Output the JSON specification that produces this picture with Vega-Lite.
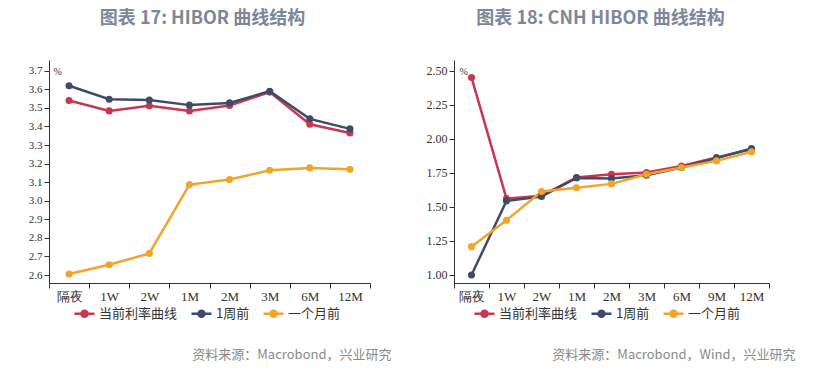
{
  "$schema": "https://vega.github.io/schema/vega-lite/v6.json",
  "background": "white",
  "padding": {"left": 28, "top": 10, "right": 5, "bottom": 5},
  "spacing": 34,
  "datasets": {
    "hibor": [
      {"tenor": "隔夜", "series": "当前利率曲线", "value": 3.54},
      {"tenor": "1W", "series": "当前利率曲线", "value": 3.484},
      {"tenor": "2W", "series": "当前利率曲线", "value": 3.511},
      {"tenor": "1M", "series": "当前利率曲线", "value": 3.483},
      {"tenor": "2M", "series": "当前利率曲线", "value": 3.513},
      {"tenor": "3M", "series": "当前利率曲线", "value": 3.585},
      {"tenor": "6M", "series": "当前利率曲线", "value": 3.412},
      {"tenor": "12M", "series": "当前利率曲线", "value": 3.365},
      {"tenor": "隔夜", "series": "1周前", "value": 3.619},
      {"tenor": "1W", "series": "1周前", "value": 3.547},
      {"tenor": "2W", "series": "1周前", "value": 3.542},
      {"tenor": "1M", "series": "1周前", "value": 3.515},
      {"tenor": "2M", "series": "1周前", "value": 3.527},
      {"tenor": "3M", "series": "1周前", "value": 3.59},
      {"tenor": "6M", "series": "1周前", "value": 3.441},
      {"tenor": "12M", "series": "1周前", "value": 3.387},
      {"tenor": "隔夜", "series": "一个月前", "value": 2.605},
      {"tenor": "1W", "series": "一个月前", "value": 2.655},
      {"tenor": "2W", "series": "一个月前", "value": 2.716},
      {"tenor": "1M", "series": "一个月前", "value": 3.087},
      {"tenor": "2M", "series": "一个月前", "value": 3.114},
      {"tenor": "3M", "series": "一个月前", "value": 3.164},
      {"tenor": "6M", "series": "一个月前", "value": 3.177},
      {"tenor": "12M", "series": "一个月前", "value": 3.169}
    ],
    "cnh": [
      {"tenor": "隔夜", "series": "当前利率曲线", "value": 2.451},
      {"tenor": "1W", "series": "当前利率曲线", "value": 1.561},
      {"tenor": "2W", "series": "当前利率曲线", "value": 1.582},
      {"tenor": "1M", "series": "当前利率曲线", "value": 1.716},
      {"tenor": "2M", "series": "当前利率曲线", "value": 1.74},
      {"tenor": "3M", "series": "当前利率曲线", "value": 1.752},
      {"tenor": "6M", "series": "当前利率曲线", "value": 1.801},
      {"tenor": "9M", "series": "当前利率曲线", "value": 1.863},
      {"tenor": "12M", "series": "当前利率曲线", "value": 1.924},
      {"tenor": "隔夜", "series": "1周前", "value": 1.0},
      {"tenor": "1W", "series": "1周前", "value": 1.544},
      {"tenor": "2W", "series": "1周前", "value": 1.576},
      {"tenor": "1M", "series": "1周前", "value": 1.713},
      {"tenor": "2M", "series": "1周前", "value": 1.708},
      {"tenor": "3M", "series": "1周前", "value": 1.733},
      {"tenor": "6M", "series": "1周前", "value": 1.789},
      {"tenor": "9M", "series": "1周前", "value": 1.858},
      {"tenor": "12M", "series": "1周前", "value": 1.929},
      {"tenor": "隔夜", "series": "一个月前", "value": 1.208},
      {"tenor": "1W", "series": "一个月前", "value": 1.402},
      {"tenor": "2W", "series": "一个月前", "value": 1.613},
      {"tenor": "1M", "series": "一个月前", "value": 1.64},
      {"tenor": "2M", "series": "一个月前", "value": 1.669},
      {"tenor": "3M", "series": "一个月前", "value": 1.74},
      {"tenor": "6M", "series": "一个月前", "value": 1.789},
      {"tenor": "9M", "series": "一个月前", "value": 1.838},
      {"tenor": "12M", "series": "一个月前", "value": 1.904}
    ]
  },
  "config": {
    "view": {"stroke": null},
    "axis": {
      "domainColor": "#333333",
      "tickColor": "#333333",
      "labelColor": "#333333",
      "grid": false,
      "labelFont": "Liberation Serif",
      "titleFont": "Liberation Serif",
      "tickSize": 5
    },
    "title": {
      "font": "Noto Sans CJK SC",
      "fontSize": 18,
      "fontWeight": "bold",
      "color": "#7b879b"
    },
    "legend": {
      "labelFont": "Noto Sans CJK SC",
      "labelFontSize": 13,
      "labelColor": "#333333"
    }
  },
  "resolve": {
    "scale": {"color": "independent", "x": "independent", "y": "independent"},
    "legend": {"color": "independent"}
  },
  "hconcat": [
    {
      "title": {"text": "资料来源：Macrobond，兴业研究", "orient": "bottom", "anchor": "end", "fontSize": 13, "fontWeight": "normal", "color": "#8a8a8a", "offset": 27, "dx": 21},
      "vconcat": [
        {
          "width": 321,
          "height": 223,
          "title": {"text": "图表 17: HIBOR 曲线结构", "dx": -7, "offset": 32},
          "data": {"name": "hibor"},
          "encoding": {
            "x": {
              "field": "tenor", "type": "nominal",
              "sort": ["隔夜", "1W", "2W", "1M", "2M", "3M", "6M", "12M"],
              "scale": {"type": "band", "paddingInner": 0, "paddingOuter": 0},
              "bandPosition": 0.5,
              "axis": {"title": null, "labelAngle": 0, "tickBand": "extent", "labelFontSize": 13, "labelPadding": 2}
            },
            "y": {
              "field": "value", "type": "quantitative",
              "scale": {"domain": [2.557, 3.758], "nice": false, "zero": false},
              "axis": {
                "values": [2.6, 2.7, 2.8, 2.9, 3.0, 3.1, 3.2, 3.3, 3.4, 3.5, 3.6, 3.7],
                "format": ".1f", "labelFontSize": 11,
                "title": "%", "titleAngle": 0, "titleX": 4, "titleY": 11, "titleAlign": "left", "titleBaseline": "middle", "titleFontSize": 10, "titleFontWeight": "normal", "titleColor": "#333333"
              }
            },
            "color": {
              "field": "series", "type": "nominal",
              "scale": {"domain": ["当前利率曲线", "1周前", "一个月前"], "range": ["#c9374f", "#3e4c6a", "#f0a42a"]},
              "legend": {
                "orient": "none", "legendX": 24, "legendY": 242, "direction": "horizontal", "title": null,
                "symbolType": "M-1,0H1M-0.3,0A0.3,0.3,0,1,0,0.3,0A0.3,0.3,0,1,0,-0.3,0Z",
                "symbolSize": 400, "symbolStrokeWidth": 2.5, "labelOffset": 3, "columnPadding": 8
              }
            }
          },
          "layer": [
            {"mark": {"type": "line", "strokeWidth": 2.5}},
            {"mark": {"type": "point", "filled": true, "size": 50, "opacity": 1}}
          ]
        }
      ]
    },
    {
      "title": {"text": "资料来源：Macrobond，Wind，兴业研究", "orient": "bottom", "anchor": "end", "fontSize": 13, "fontWeight": "normal", "color": "#8a8a8a", "offset": 27, "dx": 26},
      "vconcat": [
        {
          "width": 315,
          "height": 223,
          "title": {"text": "图表 18: CNH HIBOR 曲线结构", "dx": -11, "offset": 32},
          "data": {"name": "cnh"},
          "encoding": {
            "x": {
              "field": "tenor", "type": "nominal",
              "sort": ["隔夜", "1W", "2W", "1M", "2M", "3M", "6M", "9M", "12M"],
              "scale": {"type": "band", "paddingInner": 0, "paddingOuter": 0},
              "bandPosition": 0.5,
              "axis": {"title": null, "labelAngle": 0, "tickBand": "extent", "labelFontSize": 13, "labelPadding": 2}
            },
            "y": {
              "field": "value", "type": "quantitative",
              "scale": {"domain": [0.941, 2.579], "nice": false, "zero": false},
              "axis": {
                "values": [1.0, 1.25, 1.5, 1.75, 2.0, 2.25, 2.5],
                "format": ".2f", "labelFontSize": 12,
                "title": "%", "titleAngle": 0, "titleX": 5, "titleY": 11, "titleAlign": "left", "titleBaseline": "middle", "titleFontSize": 10, "titleFontWeight": "normal", "titleColor": "#333333"
              }
            },
            "color": {
              "field": "series", "type": "nominal",
              "scale": {"domain": ["当前利率曲线", "1周前", "一个月前"], "range": ["#c9374f", "#3e4c6a", "#f0a42a"]},
              "legend": {
                "orient": "none", "legendX": 19, "legendY": 242, "direction": "horizontal", "title": null,
                "symbolType": "M-1,0H1M-0.3,0A0.3,0.3,0,1,0,0.3,0A0.3,0.3,0,1,0,-0.3,0Z",
                "symbolSize": 400, "symbolStrokeWidth": 2.5, "labelOffset": 3, "columnPadding": 8
              }
            }
          },
          "layer": [
            {"mark": {"type": "line", "strokeWidth": 2.5}},
            {"mark": {"type": "point", "filled": true, "size": 50, "opacity": 1}}
          ]
        }
      ]
    }
  ]
}
